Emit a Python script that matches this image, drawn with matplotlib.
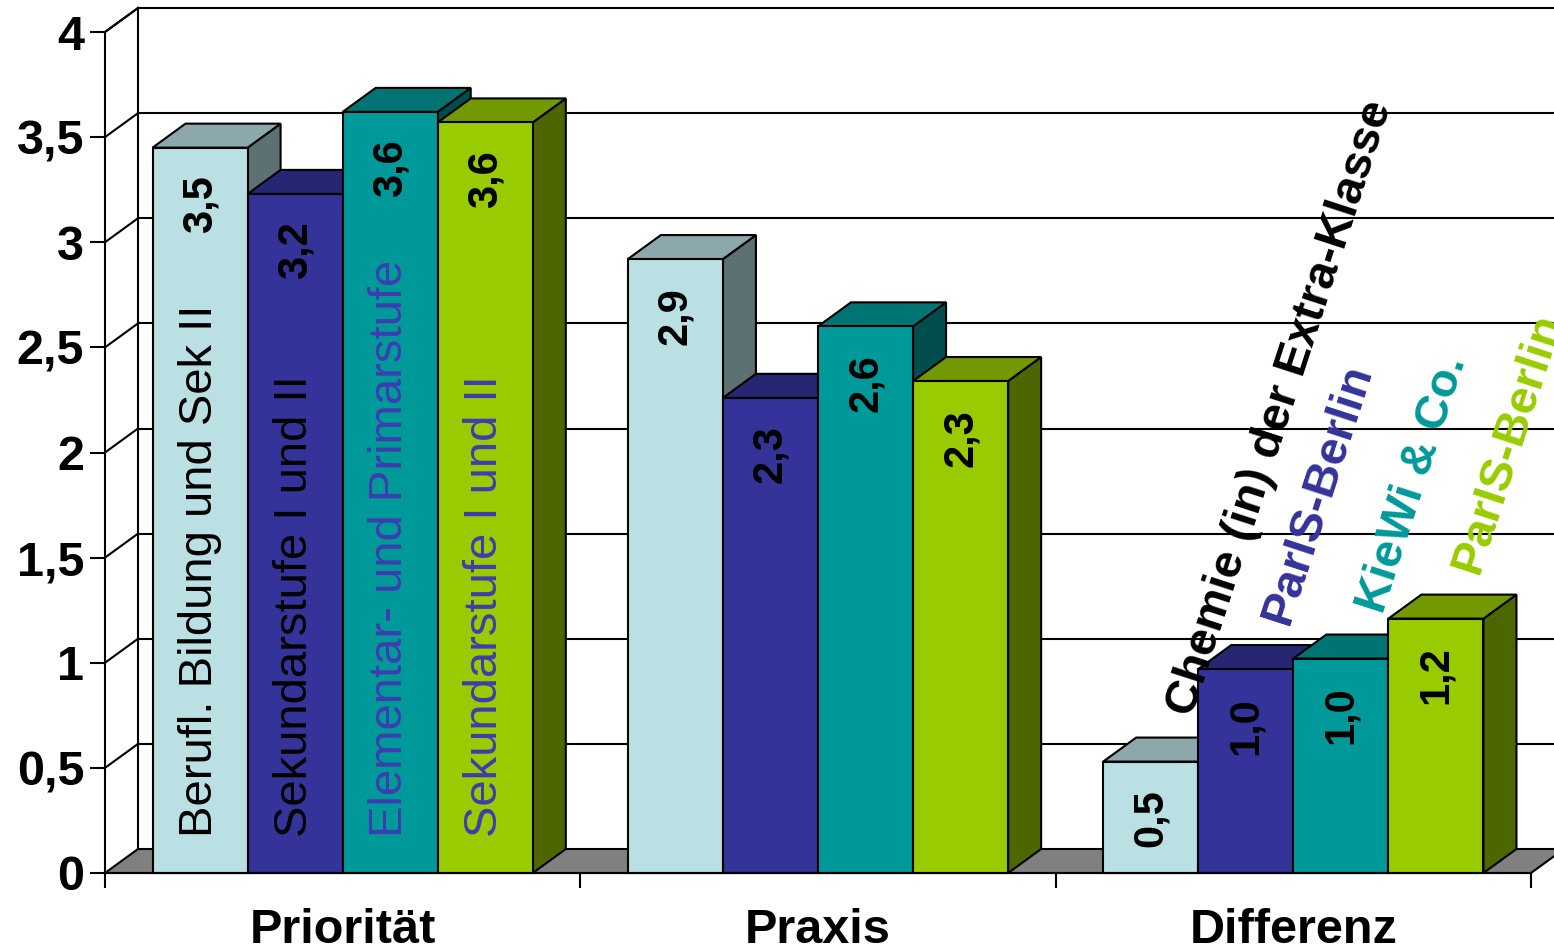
import matplotlib.pyplot as plt
from matplotlib.patches import Polygon

plt.rcParams['font.family'] = ['Liberation Sans', 'DejaVu Sans']

# data
categories = ["Priorität", "Praxis", "Differenz"]
series = ["Berufl. Bildung und Sek II", "Sekundarstufe I und II",
          "Elementar- und Primarstufe", "Sekundarstufe I und II"]
values = [
    [3.45, 3.23, 3.62, 3.57],   # Priorität
    [2.92, 2.26, 2.60, 2.34],   # Praxis
    [0.53, 0.97, 1.02, 1.21],   # Differenz
]
value_labels = [
    ["3,5", "3,2", "3,6", "3,6"],
    ["2,9", "2,3", "2,6", "2,3"],
    ["0,5", "1,0", "1,0", "1,2"],
]
diff_names = ["Chemie (in) der Extra-Klasse", "ParIS-Berlin", "KieWi & Co.", "ParIS-Berlin"]
yticks = [0, 0.5, 1, 1.5, 2, 2.5, 3, 3.5, 4]
ytick_labels = ["0", "0,5", "1", "1,5", "2", "2,5", "3", "3,5", "4"]

# colours: front, top, side
front = ["#BBE0E3", "#333399", "#009999", "#99CC00"]
top = ["#8CA8AA", "#262673", "#007373", "#739900"]
side = ["#5E7172", "#1A1A4D", "#004D4D", "#4D6600"]
name_colors = ["black", "black", "#3D3DB0", "#3D3DB0"]
diff_colors = ["black", "#333399", "#009999", "#99CC00"]

fig = plt.figure(figsize=(15.54, 9.52), dpi=100)
ax = fig.add_axes([105 / 1554, 79 / 952, 1426 / 1554, 841 / 952])
ax.set_xlim(0, 3)
ax.set_ylim(0, 4)
ax.patch.set_visible(False)

DX = 33 / 475.33
DY = 24 / 210.25
lw = 1.5

# floor
ax.add_patch(Polygon([(0, 0), (3, 0), (3 + DX, DY), (DX, DY)], closed=True,
                     facecolor="#808080", edgecolor="black", lw=lw, clip_on=False, zorder=1))
# back wall + side wall gridlines
ax.plot([DX, DX], [DY, 4 + DY], color="black", lw=lw, clip_on=False, zorder=1)
ax.plot([0, DX], [4, 4 + DY], color="black", lw=lw, clip_on=False, zorder=1)
for y in yticks[1:]:
    ax.plot([DX, 3 + DX + 0.2], [y + DY, y + DY], color="black", lw=lw, clip_on=False, zorder=1)
    ax.plot([0, DX], [y, y + DY], color="black", lw=lw, clip_on=False, zorder=1)

w = 0.2
z = 2
for i in range(len(categories)):
    for j in range(len(series)):
        x0 = i + 0.1 + w * j
        h = values[i][j]
        ax.add_patch(Polygon([(x0 + w, 0), (x0 + w + DX, DY), (x0 + w + DX, h + DY), (x0 + w, h)],
                             closed=True, facecolor=side[j], edgecolor="black", lw=lw,
                             clip_on=False, zorder=z))
        ax.add_patch(Polygon([(x0, h), (x0 + w, h), (x0 + w + DX, h + DY), (x0 + DX, h + DY)],
                             closed=True, facecolor=top[j], edgecolor="black", lw=lw,
                             clip_on=False, zorder=z))
        ax.bar(x0, h, w, align="edge", color=front[j], edgecolor="black", lw=lw,
               zorder=z + 0.5, clip_on=False)
        z += 1
        ax.annotate(value_labels[i][j], xy=(x0 + w / 2, h), xytext=(0, -20),
                    textcoords="offset points", rotation=90, ha="center", va="top",
                    fontsize=30, fontweight="bold", color="black", zorder=50)

# series names inside the first group
for j, name in enumerate(series):
    x0 = 0.1 + w * j
    ax.text(x0 + w / 2, 0.17, name, rotation=90, ha="center", va="bottom",
            fontsize=34, color=name_colors[j], zorder=50)

# labels above the Differenz group
for j, name in enumerate(diff_names):
    x0 = 2.1 + w * j
    ax.annotate(name, xy=(x0 + w / 2, values[2][j]), xytext=(37, 29),
                textcoords="offset points", rotation=72, rotation_mode="anchor",
                ha="left", va="bottom", fontsize=34, fontweight="bold",
                color=diff_colors[j], zorder=60)

# axes
for s in ["top", "right"]:
    ax.spines[s].set_visible(False)
for s in ["left", "bottom"]:
    ax.spines[s].set_linewidth(lw)
    ax.spines[s].set_zorder(70)
ax.set_yticks(yticks)
ax.set_yticklabels(ytick_labels, fontsize=35, fontweight="bold")
ax.set_xticks([0, 1, 2, 3])
ax.set_xticklabels([])
ax.set_xticks([0.5, 1.5, 2.5], minor=True)
ax.set_xticklabels(categories, minor=True, fontsize=35, fontweight="bold")
ax.tick_params(axis="both", which="major", length=11, width=lw, direction="out")
ax.tick_params(axis="y", pad=4)
ax.tick_params(axis="x", which="minor", length=0, pad=25)

fig.savefig("out.png", dpi=100)
